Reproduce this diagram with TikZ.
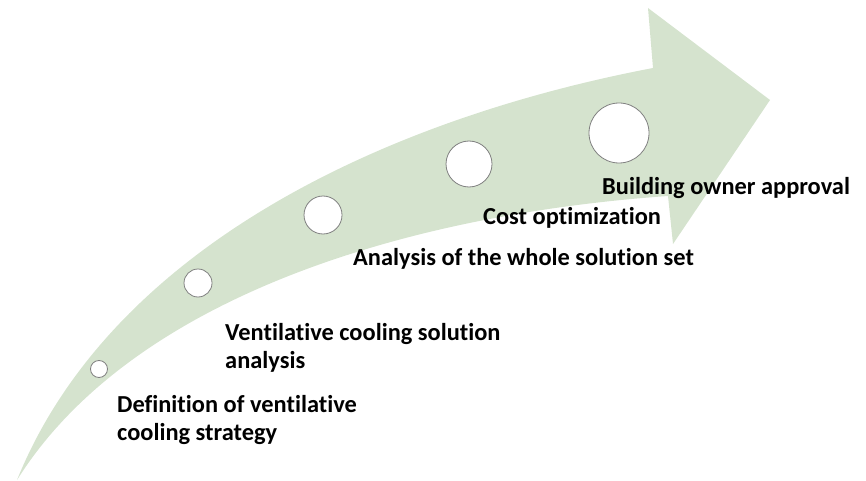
\documentclass[tikz,border=0pt]{standalone}
\usepackage{fontspec}
\setmainfont{Carlito}[Ligatures=NoCommon]
\definecolor{arrowgreen}{RGB}{213,227,206}
\definecolor{dotgray}{RGB}{128,128,128}
\tikzset{
  stagedot/.style={circle,draw=dotgray,line width=0.8pt,fill=white,inner sep=0pt},
  stagetext/.style={font=\fontsize{24.4}{28}\selectfont\bfseries,inner sep=0pt,align=left,anchor=base west}
}
\begin{document}
\begin{tikzpicture}[x=1pt,y=-1pt]
\useasboundingbox (0,0) rectangle (866,481);
% arrow points
\coordinate (tail) at (17,480);
\coordinate (up) at (653,68);
\coordinate (headtop) at (648,8);
\coordinate (tip) at (770,100);
\coordinate (headbot) at (673,244);
\coordinate (low) at (668,196);

% curved arrow
\fill[arrowgreen] (tail) .. controls (110,250) and (380,120) .. (up)
  -- (headtop) -- (tip) -- (headbot) -- (low)
  .. controls (400,215) and (130,300) .. (tail) -- cycle;

% stage dots
\node[stagedot,minimum size=17pt] (c1) at (99,369) {};
\node[stagedot,minimum size=28pt] (c2) at (198,283) {};
\node[stagedot,minimum size=38pt] (c3) at (323,215) {};
\node[stagedot,minimum size=46pt] (c4) at (469,164) {};
\node[stagedot,minimum size=60pt] (c5) at (619,133) {};

% stage texts (base = last line)
\node[stagetext] (t1) at (117,440) {Definition of ventilative\\cooling strategy};
\node[stagetext] (t2) at (225,368) {Ventilative cooling solution\\analysis};
\node[stagetext] (t3) at (353,265) {Analysis of the whole solution set};
\node[stagetext] (t4) at (483,224) {Cost optimization};
\node[stagetext] (t5) at (602,194) {Building owner approval};
\end{tikzpicture}
\end{document}
